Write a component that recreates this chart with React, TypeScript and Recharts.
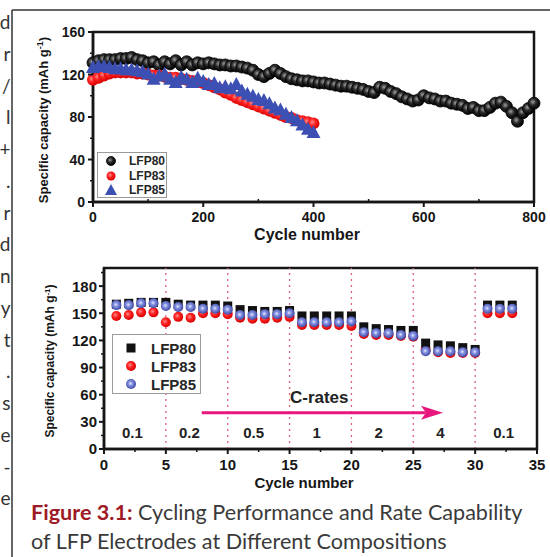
import React from "react";
import {
  ScatterChart,
  Scatter,
  XAxis,
  YAxis,
  ReferenceLine,
  ReferenceArea,
  ReferenceDot,
  Legend,
} from "recharts";

// ---- top panel: long-term cycling, read every 10 cycles ----
const longCycles = [
  0, 10, 20, 30, 40, 50, 60, 70, 80, 90, 100, 110, 120, 130, 140, 150, 160, 170, 180, 190,
  200, 210, 220, 230, 240, 250, 260, 270, 280, 290, 300, 310, 320, 330, 340, 350, 360, 370, 380, 390,
  400, 410, 420, 430, 440, 450, 460, 470, 480, 490, 500, 510, 520, 530, 540, 550, 560, 570, 580, 590,
  600, 610, 620, 630, 640, 650, 660, 670, 680, 690, 700, 710, 720, 730, 740, 750, 760, 770, 780, 790,
  800,
];
const lfp80Long = [
  131, 133, 134, 134, 134, 135, 135, 136, 134, 133,
  131, 132, 129, 132, 130, 133, 129, 132, 129, 131,
  130, 131, 130, 129, 129, 128, 128, 127, 126, 124,
  120, 118, 121, 124, 121, 118, 116, 115, 114, 114,
  113, 112, 112, 111, 110, 109, 109, 108, 107, 106,
  104, 103, 108, 107, 104, 102, 99, 97, 95, 96,
  100, 98, 97, 95, 95, 93, 92, 91, 88, 89,
  86, 86, 89, 93, 94, 90, 84, 76, 84, 88,
  93,
];
const shortCycles = [
  0, 10, 20, 30, 40, 50, 60, 70, 80, 90, 100, 110, 120, 130, 140, 150, 160, 170, 180, 190,
  200, 210, 220, 230, 240, 250, 260, 270, 280, 290, 300, 310, 320, 330, 340, 350, 360, 370, 380, 390,
  400,
];
const lfp83Long = [
  115, 117, 119, 121, 122, 122, 122, 122, 121, 121,
  120, 119, 119, 118, 117, 117, 116, 115, 114, 113,
  112, 110, 108, 106, 103, 101, 98, 96, 94, 92,
  90, 88, 86, 84, 82, 80, 79, 77, 76, 75,
  74,
];
const lfp85Long = [
  127, 128, 128, 127, 126, 126, 125, 125, 124, 123,
  121, 116, 119, 121, 116, 113, 118, 116, 113, 117,
  114, 111, 112, 108, 109, 107, 111, 105, 102, 100,
  97, 96, 93, 89, 87, 83, 80, 77, 73, 69,
  66,
];

// ---- bottom panel: rate capability ----
const rateCycles = [
  1, 2, 3, 4, 5, 6, 7, 8, 9, 10, 11, 12, 13, 14, 15, 16, 17, 18, 19, 20,
  21, 22, 23, 24, 25, 26, 27, 28, 29, 30, 31, 32, 33,
];
const lfp80Rate = [
  160, 161, 162, 162, 162, 160, 159, 159, 159, 158, 154, 153, 152, 152, 153, 147, 147, 147, 147, 147,
  135, 133, 132, 131, 131, 117, 115, 114, 112, 110, 159, 159, 159,
];
const lfp83Rate = [
  147, 148, 151, 151, 140, 146, 145, 150, 150, 149, 145, 144, 144, 145, 146, 137, 137, 137, 137, 136,
  127, 126, 126, 125, 124, 110, 107, 106, 106, 106, 150, 150, 150,
];
const lfp85Rate = [
  159, 159, 161, 161, 158, 157, 157, 155, 155, 154, 148, 148, 149, 149, 150, 140, 140, 140, 140, 141,
  129, 128, 128, 126, 125, 108, 108, 108, 107, 107, 155, 155, 155,
];
const rateSteps = [5, 10, 15, 20, 25, 30];
const rateNames = ["0.1", "0.2", "0.5", "1", "2", "4", "0.1"];
const rateNameAt = [2.3, 6.9, 12.1, 17.2, 22.2, 27.2, 32.3];

// axis ticks
const topMajorX = [0, 200, 400, 600, 800];
const topMinorX = [100, 300, 500, 700];
const topMajorY = [0, 40, 80, 120, 160];
const topMinorY = [20, 60, 100, 140];
const rateMajorX = [0, 5, 10, 15, 20, 25, 30, 35];
const rateMinorX = [2.5, 7.5, 12.5, 17.5, 22.5, 27.5, 32.5];
const rateMajorY = [0, 30, 60, 90, 120, 150, 180];
const rateMinorY = [15, 45, 75, 105, 135, 165, 195];

// wrapped body text cut off at the left edge of the page
const sideLetters = ["d", "r", "/", "l", "+", ".", "r", "d", "n", "y", "t", ".", "s", "e", "-", "e"];

const INK = "#161616";
const FONT = '"Liberation Sans", Arial, Helvetica, sans-serif';
const CAPTION_FONT = 'Lato, "Open Sans", sans-serif';

const zip = (xs: number[], ys: number[]) => xs.map((x, i) => ({ x, y: ys[i] }));
const merged = (a: number[], b: number[]) => [...a, ...b].sort((p, q) => p - q);

function xTick(majors: number[], minorUp: boolean, fontSize: number, dy: number) {
  return (props: any) => {
    const { x, y, payload } = props;
    const v = payload.value;
    if (majors.includes(v)) {
      return (
        <g>
          <line x1={x} x2={x} y1={y} y2={y + 5} stroke={INK} strokeWidth={2} />
          <text x={x} y={y + dy} textAnchor="middle" fontSize={fontSize} fontWeight={700} fontFamily={FONT} fill={INK}>
            {v}
          </text>
        </g>
      );
    }
    return <line x1={x} x2={x} y1={y} y2={minorUp ? y - 3 : y + 3} stroke={INK} strokeWidth={1.5} />;
  };
}

function yTick(majors: number[], fontSize: number, gap: number) {
  return (props: any) => {
    const { x, y, payload } = props;
    const v = payload.value;
    if (majors.includes(v)) {
      return (
        <g>
          <line x1={x - 5} x2={x} y1={y} y2={y} stroke={INK} strokeWidth={2} />
          <text x={x - gap} y={y} dy="0.36em" textAnchor="end" fontSize={fontSize} fontWeight={700} fontFamily={FONT} fill={INK}>
            {v}
          </text>
        </g>
      );
    }
    return <line x1={x - 3} x2={x} y1={y} y2={y} stroke={INK} strokeWidth={1.5} />;
  };
}

// marker shapes
const ball = (fill: string, r: number, stroke = "none") => (p: any) =>
  <circle cx={p.cx} cy={p.cy} r={r} fill={fill} stroke={stroke} strokeWidth={0.8} />;
const triangle = (p: any) => (
  <polygon
    points={`${p.cx},${p.cy - 7} ${p.cx - 7},${p.cy + 6} ${p.cx + 7},${p.cy + 6}`}
    fill="#3c50b4"
  />
);
const smallTriangle = (p: any) => (
  <polygon
    points={`${p.cx},${p.cy - 6} ${p.cx - 6},${p.cy + 5} ${p.cx + 6},${p.cy + 5}`}
    fill="#3c50b4"
  />
);
const square = (p: any) => <rect x={p.cx - 4.5} y={p.cy - 4.5} width={9} height={9} fill="#111" />;

const textMark = (label: string, size: number) => (p: any) => (
  <text x={p.cx} y={p.cy} dy="0.35em" textAnchor="middle" fontSize={size} fontWeight={700} fontFamily={FONT} fill="#222">
    {label}
  </text>
);
const arrowHead = (p: any) => (
  <polygon points={`${p.cx},${p.cy} ${p.cx - 22},${p.cy - 7} ${p.cx - 17},${p.cy} ${p.cx - 22},${p.cy + 7}`} fill="#e8177d" />
);

function LegendBox({ items, rowH, fontSize, iconX, textX, w, h, pad }: any) {
  return (
    <div style={{ width: w, height: h, border: "1px solid #9a9a9a", background: "#fff", boxSizing: "border-box", position: "relative" }}>
      {items.map((it: any, i: number) => (
        <div key={it.name} style={{ position: "absolute", left: 0, top: pad + i * rowH, height: rowH, width: w, display: "flex", alignItems: "center" }}>
          <svg width={14} height={14} style={{ position: "absolute", left: iconX - 7 }}>
            {it.icon({ cx: 7, cy: 7 })}
          </svg>
          <span style={{ position: "absolute", left: textX, fontFamily: FONT, fontWeight: 700, fontSize, color: "#262626", lineHeight: 1 }}>
            {it.name}
          </span>
        </div>
      ))}
    </div>
  );
}

export default function App() {
  const topLegend = [
    { name: "LFP80", icon: ball("url(#gBlack)", 4.5, "#000") },
    { name: "LFP83", icon: ball("url(#gRed)", 4.5) },
    { name: "LFP85", icon: smallTriangle },
  ];
  const rateLegend = [
    { name: "LFP80", icon: square },
    { name: "LFP83", icon: ball("url(#gRed)", 5) },
    { name: "LFP85", icon: ball("url(#gBlue)", 5) },
  ];

  return (
    <div style={{ position: "absolute", left: 0, top: 0, width: 550, height: 557, background: "#fff", overflow: "hidden" }}>
      <svg width={0} height={0} style={{ position: "absolute" }}>
        <defs>
          <radialGradient id="gBlack" cx="0.4" cy="0.4" r="0.6">
            <stop offset="0%" stopColor="#a0a0a0" />
            <stop offset="45%" stopColor="#2a2a2a" />
            <stop offset="100%" stopColor="#000" />
          </radialGradient>
          <radialGradient id="gRed" cx="0.4" cy="0.4" r="0.6">
            <stop offset="0%" stopColor="#ff8c8c" />
            <stop offset="45%" stopColor="#ff2424" />
            <stop offset="100%" stopColor="#d80000" />
          </radialGradient>
          <radialGradient id="gBlue" cx="0.45" cy="0.45" r="0.6">
            <stop offset="0%" stopColor="#e4e8ff" />
            <stop offset="35%" stopColor="#8592e0" />
            <stop offset="100%" stopColor="#333c9c" />
          </radialGradient>
        </defs>
      </svg>

      {/* top panel */}
      <div style={{ position: "absolute", left: 0, top: 0 }}>
        <ScatterChart width={550} height={250} margin={{ top: 32, right: 16, bottom: 0, left: 0 }}>
          <XAxis
            type="number"
            dataKey="x"
            domain={[0, 800]}
            ticks={merged(topMajorX, topMinorX)}
            interval={0}
            tickSize={0}
            tickMargin={0}
            tickLine={false}
            axisLine={{ stroke: INK, strokeWidth: 2.5 }}
            height={48}
            tick={xTick(topMajorX, true, 14, 20)}
          />
          <YAxis
            type="number"
            dataKey="y"
            domain={[0, 160]}
            ticks={merged(topMajorY, topMinorY)}
            interval={0}
            tickSize={0}
            tickMargin={0}
            tickLine={false}
            axisLine={{ stroke: INK, strokeWidth: 2.5 }}
            width={93}
            tick={yTick(topMajorY, 14, 8)}
          />
          <ReferenceArea x1={0} x2={800} y1={0} y2={160} fill="none" stroke={INK} strokeWidth={2.5} />
          <Scatter name="LFP80" data={zip(longCycles, lfp80Long)} shape={ball("url(#gBlack)", 6, "#000")} isAnimationActive={false} />
          <Scatter name="LFP83" data={zip(shortCycles, lfp83Long)} shape={ball("url(#gRed)", 6)} isAnimationActive={false} />
          <Scatter name="LFP85" data={zip(shortCycles, lfp85Long)} shape={triangle} isAnimationActive={false} />
          <Legend
            layout="vertical"
            align="center"
            verticalAlign="middle"
            wrapperStyle={{ left: 97, top: 152, width: 70, height: 46 }}
            content={() => <LegendBox items={topLegend} rowH={14.5} fontSize={12} iconX={13} textX={31} w={70} h={46} pad={1} />}
          />
        </ScatterChart>
      </div>

      {/* bottom panel */}
      <div style={{ position: "absolute", left: 0, top: 250 }}>
        <ScatterChart width={550} height={245} margin={{ top: 18, right: 13, bottom: 0, left: 0 }}>
          <XAxis
            type="number"
            dataKey="x"
            domain={[0, 35]}
            ticks={merged(rateMajorX, rateMinorX)}
            interval={0}
            tickSize={0}
            tickMargin={0}
            tickLine={false}
            axisLine={{ stroke: INK, strokeWidth: 2.5 }}
            height={46}
            tick={xTick(rateMajorX, false, 15, 21)}
          />
          <YAxis
            type="number"
            dataKey="y"
            domain={[0, 200]}
            ticks={merged(rateMajorY, rateMinorY)}
            interval={0}
            tickSize={0}
            tickMargin={0}
            tickLine={false}
            axisLine={{ stroke: INK, strokeWidth: 2.5 }}
            width={104}
            tick={yTick(rateMajorY, 15, 7)}
          />
          <ReferenceArea x1={0} x2={35} y1={0} y2={200} fill="none" stroke={INK} strokeWidth={2.5} />
          {rateSteps.map((c) => (
            <ReferenceLine key={c} x={c} stroke="#e0607a" strokeDasharray="2 4" strokeWidth={1.3} />
          ))}
          <ReferenceLine segment={[{ x: 7.9, y: 40 }, { x: 26, y: 40 }]} stroke="#e8177d" strokeWidth={3} />
          <ReferenceDot x={27.4} y={40} r={0} shape={arrowHead} />
          <ReferenceDot x={17.4} y={57} r={0} shape={textMark("C-rates", 17)} />
          {rateNames.map((n, i) => (
            <ReferenceDot key={i} x={rateNameAt[i]} y={18} r={0} shape={textMark(n, 15)} />
          ))}
          <Scatter name="LFP83" data={zip(rateCycles, lfp83Rate)} shape={ball("url(#gRed)", 5)} isAnimationActive={false} />
          <Scatter name="LFP80" data={zip(rateCycles, lfp80Rate)} shape={square} isAnimationActive={false} />
          <Scatter name="LFP85" data={zip(rateCycles, lfp85Rate)} shape={ball("url(#gBlue)", 5)} isAnimationActive={false} />
          <Legend
            layout="vertical"
            align="center"
            verticalAlign="middle"
            wrapperStyle={{ left: 112, top: 84, width: 89, height: 60 }}
            content={() => <LegendBox items={rateLegend} rowH={18} fontSize={15} iconX={18} textX={38} w={89} h={60} pad={4} />}
          />
        </ScatterChart>
      </div>

      {/* page furniture: frame, titles, caption */}
      <svg width={550} height={557} style={{ position: "absolute", left: 0, top: 0, pointerEvents: "none" }}>
        <line x1={12} x2={12} y1={10} y2={557} stroke="#333" strokeWidth={1.5} />
        <line x1={12} x2={550} y1={10} y2={10} stroke="#333" strokeWidth={1.5} />
        {sideLetters.map((s, i) => (
          <text key={i} x={10.5} y={29 + i * 31.75} textAnchor="end" fontSize={19} fontFamily={CAPTION_FONT} fill="#333">
            {s}
          </text>
        ))}
        <text transform="translate(48,120) rotate(-90)" textAnchor="middle" fontSize={13} fontWeight={700} fontFamily={FONT} fill={INK}>
          Specific capacity (mAh g<tspan dy={-5} fontSize={9}>-1</tspan><tspan dy={5}>)</tspan>
        </text>
        <text x={307} y={240} textAnchor="middle" fontSize={16} fontWeight={700} fontFamily={FONT} fill={INK}>
          Cycle number
        </text>
        <text transform="translate(54,361) rotate(-90)" textAnchor="middle" fontSize={12} fontWeight={700} fontFamily={FONT} fill={INK}>
          Specific capacity (mAh g<tspan dy={-4} fontSize={8}>-1</tspan><tspan dy={4}>)</tspan>
        </text>
        <text x={304} y={488} textAnchor="middle" fontSize={15} fontWeight={700} fontFamily={FONT} fill={INK}>
          Cycle number
        </text>
        <text x={31} y={520} fontSize={21.6} fontFamily={CAPTION_FONT} fill="#3a3a3a">
          <tspan fontWeight={700} fill="#9e1b26">Figure 3.1:</tspan>
          <tspan> Cycling Performance and Rate Capability</tspan>
        </text>
        <text x={31} y={549} fontSize={21.6} fontFamily={CAPTION_FONT} fill="#3a3a3a">
          of LFP Electrodes at Different Compositions
        </text>
      </svg>
    </div>
  );
}
